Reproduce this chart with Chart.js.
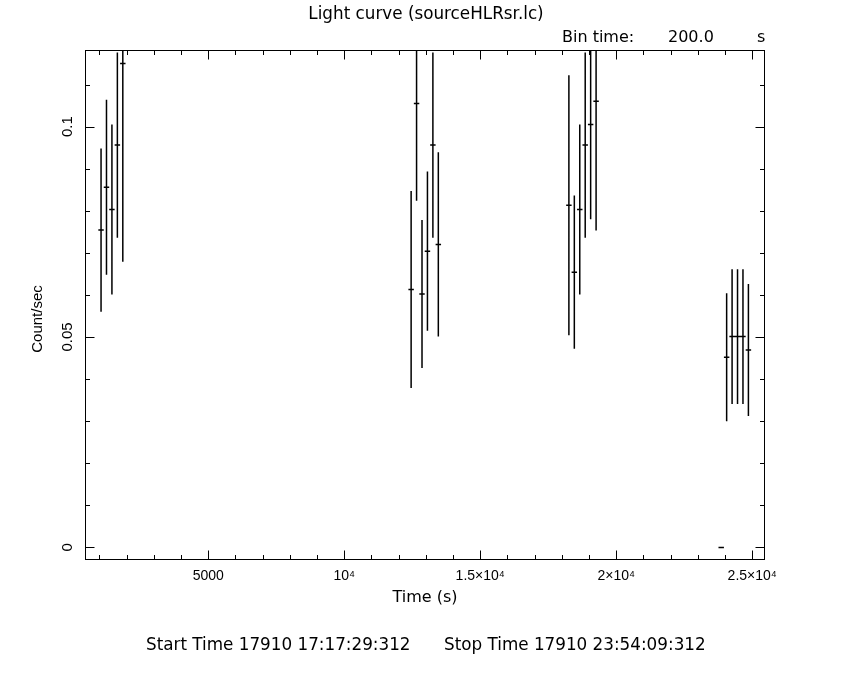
<!DOCTYPE html>
<html><head><meta charset="utf-8">
<script src="https://cdn.jsdelivr.net/npm/chart.js@4/dist/chart.umd.min.js"></script>
<style>html,body{margin:0;padding:0;background:#fff}#wrap{width:850px;height:680px}</style>
</head><body><div id="wrap"><canvas id="c" width="850" height="680"></canvas></div>
<script>
// ---- data ----
const binTimes = [1060, 1260, 1460, 1660, 1860,
                  12460, 12660, 12860, 13060, 13260, 13460,
                  18260, 18460, 18660, 18860, 19060, 19260,
                  23860, 24060, 24260, 24460, 24660, 24860];
const countRates = [0.0754, 0.0856, 0.0803, 0.0956, 0.1150,
                    0.0613, 0.1055, 0.0602, 0.0704, 0.0956, 0.0720,
                    0.0813, 0.0654, 0.0803, 0.0956, 0.1005, 0.1060,
                    0.0, 0.0452, 0.0501, 0.0501, 0.0501, 0.0469];
const rateErrors = [0.0194, 0.0208, 0.0202, 0.0220, 0.0471,
                    0.0234, 0.0231, 0.0176, 0.0189, 0.0220, 0.0219,
                    0.0309, 0.0182, 0.0202, 0.0220, 0.0225, 0.0307,
                    0.0, 0.0152, 0.0160, 0.0160, 0.0160, 0.0157];
const halfBin = 100;
const xTickValues = [1000, 2000, 3000, 4000, 5000, 6000, 7000, 8000, 9000, 10000,
                     11000, 12000, 13000, 14000, 15000, 16000, 17000, 18000, 19000, 20000,
                     21000, 22000, 23000, 24000, 25000];
const xTickLabels = {5000: '5000', 10000: '10\u2074', 15000: '1.5\u00d710\u2074', 20000: '2\u00d710\u2074', 25000: '2.5\u00d710\u2074'};
const yTickValues = [0, 0.01, 0.02, 0.03, 0.04, 0.05, 0.06, 0.07, 0.08, 0.09, 0.1, 0.11];
const yTickLabels = {0: '0', 0.05: '0.05', 0.1: '0.1'};
const plotTitle = 'Light curve (sourceHLRsr.lc)';
const yTitle = 'Count/sec';
const binLabel = ['Bin time:', '200.0', 's'];
const footerLabels = ['Start Time 17910 17:17:29:312', 'Stop Time 17910 23:54:09:312'];

// ---- build error-bar polylines (gaps separate bars) ----
const vBars = [], hBars = [];
binTimes.forEach((t, i) => {
  vBars.push({x: t, y: countRates[i] - rateErrors[i]}, {x: t, y: countRates[i] + rateErrors[i]}, {x: t, y: null});
  hBars.push({x: t - halfBin, y: countRates[i]}, {x: t + halfBin, y: countRates[i]}, {x: t, y: null});
});

const FONT = "'Liberation Sans', Arial, sans-serif";
const WIDE = "'DejaVu Sans', sans-serif";
const isMajorX = v => xTickLabels[v] !== undefined;
const isMajorY = v => Math.abs(v * 100 - Math.round(v * 20) * 5) < 1e-6;

const decor = {
  id: 'decor',
  afterDraw(chart) {
    const {ctx, chartArea: a, scales: {x, y}} = chart;
    ctx.save();
    ctx.strokeStyle = '#000';
    ctx.lineWidth = 1;
    const L = a.left + 0.5, R = a.right - 0.5, T = a.top + 0.5, B = a.bottom - 0.5;
    ctx.strokeRect(L, T, R - L, B - T);
    ctx.beginPath();
    x.ticks.forEach(tk => {
      const px = Math.round(x.getPixelForValue(tk.value)) + 0.5;
      const len = isMajorX(tk.value) ? 9 : 4.5;
      ctx.moveTo(px, B); ctx.lineTo(px, B - len);
      ctx.moveTo(px, T); ctx.lineTo(px, T + len);
    });
    y.ticks.forEach(tk => {
      const py = Math.round(y.getPixelForValue(tk.value)) + 0.5;
      const len = isMajorY(tk.value) ? 9 : 4.5;
      ctx.moveTo(L, py); ctx.lineTo(L + len, py);
      ctx.moveTo(R, py); ctx.lineTo(R - len, py);
    });
    ctx.stroke();
    ctx.fillStyle = '#000';
    ctx.font = '15px ' + FONT;
    ctx.textAlign = 'center';
    ctx.textBaseline = 'middle';
    y.ticks.forEach(tk => {
      const lab = yTickLabels[Math.round(tk.value * 100) / 100];
      if (lab === undefined) return;
      ctx.save();
      ctx.translate(68, y.getPixelForValue(tk.value));
      ctx.rotate(-Math.PI / 2);
      ctx.fillText(lab, 0, 0);
      ctx.restore();
    });
    ctx.save();
    ctx.font = '15px ' + FONT;
    ctx.translate(38, 319);
    ctx.rotate(-Math.PI / 2);
    ctx.fillText(yTitle, 0, 0);
    ctx.restore();
    ctx.font = '16.8px ' + WIDE;
    ctx.fillText(plotTitle, 426, 15);
    ctx.textAlign = 'left';
    ctx.fillText(footerLabels[0], 146, 646);
    ctx.fillText(footerLabels[1], 444, 646);
    ctx.font = '16px ' + WIDE;
    ctx.fillText(binLabel[0], 562, 38);
    ctx.fillText(binLabel[1], 668, 38);
    ctx.fillText(binLabel[2], 757, 38);
    ctx.restore();
  }
};

const lineStyle = {borderColor: '#000', borderWidth: 1.5, pointRadius: 0, pointHoverRadius: 0, fill: false, tension: 0, spanGaps: false, clip: 0};

new Chart(document.getElementById('c'), {
  type: 'line',
  data: {datasets: [
    Object.assign({label: 'error', data: vBars}, lineStyle),
    Object.assign({label: 'bin', data: hBars}, lineStyle)
  ]},
  options: {
    responsive: false, animation: false, devicePixelRatio: 1,
    layout: {padding: {top: 50, right: 85, bottom: 70, left: 0}},
    plugins: {legend: {display: false}, tooltip: {enabled: false}, title: {display: false}},
    scales: {
      x: {
        type: 'linear', position: 'bottom', min: 470, max: 25470,
        afterBuildTicks: s => { s.ticks = xTickValues.map(v => ({value: v})); },
        afterFit: s => { s.height = 50; },
        grid: {display: false, drawTicks: false}, border: {display: false},
        ticks: {autoSkip: false, maxRotation: 0, minRotation: 0, padding: 8, color: '#000',
                font: {family: FONT, size: 14}, callback: v => xTickLabels[v] ?? ''},
        title: {display: true, text: 'Time (s)', color: '#000', font: {family: WIDE, size: 16}, padding: {top: 0, bottom: 3}}
      },
      y: {
        type: 'linear', position: 'left', min: -0.003, max: 0.1182,
        afterBuildTicks: s => { s.ticks = yTickValues.map(v => ({value: v})); },
        afterFit: s => { s.width = 85; },
        grid: {display: false, drawTicks: false}, border: {display: false},
        ticks: {display: false},
        title: {display: false, text: yTitle}
      }
    }
  },
  plugins: [decor]
});
</script>
</body></html>
